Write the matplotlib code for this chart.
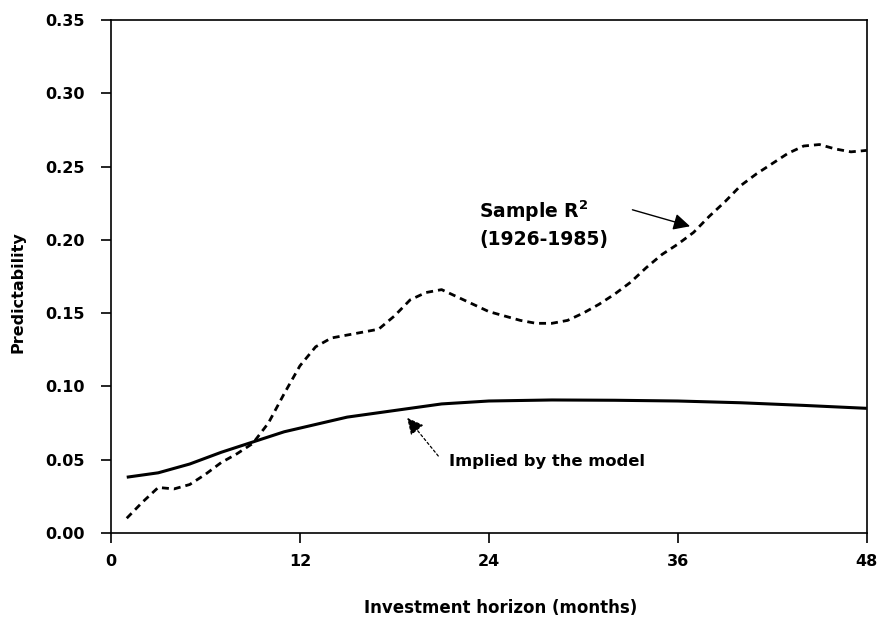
import matplotlib.pyplot as plt

# sample R^2 of long-horizon returns, 1926-1985
sample_months = list(range(1, 49))
sample_r2 = [0.010, 0.021, 0.031, 0.030, 0.033, 0.040, 0.048, 0.054, 0.061, 0.075,
             0.095, 0.114, 0.127, 0.133, 0.135, 0.137, 0.139, 0.148, 0.159, 0.164,
             0.166, 0.161, 0.156, 0.151, 0.148, 0.145, 0.143, 0.143, 0.145, 0.150,
             0.156, 0.163, 0.171, 0.181, 0.190, 0.197, 0.205, 0.216, 0.226, 0.237,
             0.245, 0.252, 0.259, 0.264, 0.265, 0.262, 0.260, 0.261]

# predictability implied by the model
model_months = [1, 3, 5, 7, 9, 11, 13, 15, 17, 19, 21, 24, 28, 32, 36, 40, 44, 48]
model_r2 = [0.038, 0.041, 0.047, 0.055, 0.062, 0.069, 0.074, 0.079, 0.082, 0.085,
            0.088, 0.090, 0.0907, 0.0905, 0.090, 0.0888, 0.087, 0.085]

x_ticks = [0, 12, 24, 36, 48]
y_ticks = [0.00, 0.05, 0.10, 0.15, 0.20, 0.25, 0.30, 0.35]

plt.rcParams['font.family'] = ['DejaVu Sans']
plt.rcParams['font.weight'] = 'bold'

fig = plt.figure(figsize=(8.88, 6.24), dpi=100)
ax = fig.add_axes([0.125, 0.146, 0.851, 0.822])

ax.plot(model_months, model_r2, color='black', lw=2.2, solid_capstyle='butt')
ax.plot(sample_months, sample_r2, color='black', lw=2.0, dashes=(2.5, 1.8))

ax.set_xlim(0, 48)
ax.set_ylim(0, 0.35)
ax.set_xticks(x_ticks)
ax.set_xticklabels([str(t) for t in x_ticks])
ax.set_yticks(y_ticks)
ax.set_yticklabels(['%.2f' % t for t in y_ticks])
ax.tick_params(direction='out', length=7, width=1.2, labelsize=11.5)
ax.tick_params(axis='y', pad=12)
ax.tick_params(axis='x', pad=8)
for s in ax.spines.values():
    s.set_linewidth(1.2)

ax.set_xlabel('Investment horizon (months)', fontsize=12, fontweight='bold')
ax.xaxis.set_label_coords(0.515, -0.128)
ax.set_ylabel('Predictability', fontsize=11.5, fontweight='bold')
ax.yaxis.set_label_coords(-0.113, 0.47)

# labels with arrows
ax.text(23.4, 0.2196, 'Sample R$^{\\mathbf{2}}$', fontsize=13.5, fontweight='bold', va='center')
ax.text(23.4, 0.200, '(1926-1985)', fontsize=13.5, fontweight='bold', va='center')
ax.annotate('', xy=(36.95, 0.2087), xytext=(32.95, 0.221),
            arrowprops=dict(arrowstyle='-|>', mutation_scale=25, lw=1.0, color='black'))

ax.text(21.5, 0.049, 'Implied by the model', fontsize=11.8, fontweight='bold', va='center')
ax.annotate('', xy=(18.7, 0.080), xytext=(20.9, 0.051),
            arrowprops=dict(arrowstyle='-|>', mutation_scale=25, lw=0.9, color='black',
                            linestyle=(0, (2, 2))))

fig.savefig('out.png', dpi=100)
